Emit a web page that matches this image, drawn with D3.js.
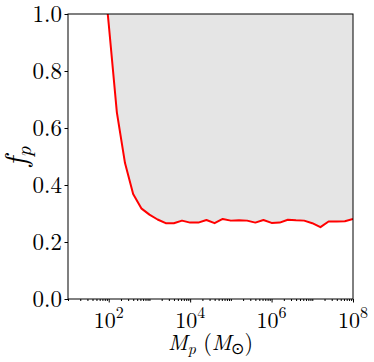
<!DOCTYPE html>
<html><head><meta charset="utf-8">
<script src="https://cdn.jsdelivr.net/npm/d3@7"></script>
<style>body{margin:0;background:#fff}svg{display:block}</style>
</head><body><div id="chart"></div>
<script>
// data: log10(M_p) grid and f_p values
const logMass = [1.8,2.0,2.2,2.4,2.6,2.8,3.0,3.2,3.4,3.6,3.8,4.0,4.2,4.4,4.6,4.8,5.0,5.2,5.4,5.6,5.8,6.0,6.2,6.4,6.6,6.8,7.0,7.2,7.4,7.6,7.8,8.0];
const fp = [1.26,0.965,0.655,0.477,0.368,0.318,0.296,0.279,0.266,0.266,0.275,0.268,0.268,0.277,0.266,0.281,0.275,0.276,0.275,0.268,0.277,0.267,0.268,0.278,0.276,0.275,0.266,0.252,0.272,0.272,0.273,0.281];
const yTicks = [0,0.2,0.4,0.6,0.8,1.0];
const xLabelExps = [2,4,6,8];

const FONT='"Latin Modern Roman","CMU Serif","Liberation Serif",serif';
const W=374,H=362;
const m={l:68,r:21,t:14,b:63};
const svg=d3.select("#chart").append("svg").attr("width",W).attr("height",H)
  .style("font-family",FONT);
const x=d3.scaleLog().domain([10,1e8]).range([m.l,W-m.r]);
const y=d3.scaleLinear().domain([0,1]).range([H-m.b,m.t]);
const data=logMass.map((l,i)=>({M:Math.pow(10,l),f:fp[i]}));

svg.append("clipPath").attr("id","clip").append("rect")
  .attr("x",m.l).attr("y",m.t).attr("width",W-m.l-m.r).attr("height",H-m.t-m.b);
const g=svg.append("g").attr("clip-path","url(#clip)");
g.append("path").datum(data)
  .attr("d",d3.area().x(d=>x(d.M)).y0(y(1)).y1(d=>y(d.f)))
  .attr("fill","#e5e5e5");
g.append("path").datum(data)
  .attr("d",d3.line().x(d=>x(d.M)).y(d=>y(d.f)))
  .attr("fill","none").attr("stroke","#ff0000").attr("stroke-width",2).attr("stroke-linejoin","round");

// frame
svg.append("rect").attr("x",m.l).attr("y",m.t).attr("width",W-m.l-m.r).attr("height",H-m.t-m.b)
  .attr("fill","none").attr("stroke","#000").attr("stroke-width",1);

// y axis
const yAxis=d3.axisLeft(y).tickValues(yTicks).tickSize(3.5).tickPadding(2.5).tickFormat(d3.format(".1f"));
const ya=svg.append("g").attr("transform",`translate(${m.l},0)`).call(yAxis);
ya.attr("font-family",null).attr("font-size",null);
ya.select(".domain").remove();
ya.selectAll("text").style("font-family",FONT).style("font-size","23px").attr("dy","0.32em");

// x axis ticks
const xa=svg.append("g").attr("transform",`translate(0,${H-m.b})`);
const minor=[];
for(let e=1;e<8;e++){for(let k=1;k<10;k++){const v=k*Math.pow(10,e); if(!(k===1&&e%2===0)) minor.push(v);}}
const xAxisMinor=d3.axisBottom(x).tickValues(minor).tickSize(2).tickFormat("");
xa.append("g").call(xAxisMinor).call(s=>s.select(".domain").remove());
const majors=xLabelExps.map(e=>Math.pow(10,e));
const xAxisMajor=d3.axisBottom(x).tickValues(majors).tickSize(3.5).tickFormat("");
xa.append("g").call(xAxisMajor).call(s=>s.select(".domain").remove());
xa.selectAll(".tick line").attr("stroke","#000");
ya.selectAll(".tick line").attr("stroke","#000");

// x tick labels
xLabelExps.forEach(e=>{
  const t=svg.append("text").attr("x",x(Math.pow(10,e))).attr("y",H-m.b+29)
    .attr("text-anchor","middle").style("font-family",FONT).style("font-size","22px");
  t.append("tspan").text("10");
  t.append("tspan").attr("dy",-10).style("font-size","16px").text(e);
});

// x label
const xl=svg.append("text").attr("x",(m.l+W-m.r)/2).attr("y",H-12).attr("text-anchor","middle")
  .style("font-family",FONT).style("font-size","22px");
xl.append("tspan").style("font-style","italic").text("M");
xl.append("tspan").attr("dy",4).style("font-size","16px").style("font-style","italic").text("p");
xl.append("tspan").attr("dy",-4).text(" (");
xl.append("tspan").style("font-style","italic").text("M");
xl.append("tspan").attr("dy",4).style("font-size","16px").text("⊙");
xl.append("tspan").attr("dy",-4).text(")");

// y label
const yl=svg.append("text").attr("transform",`translate(26,${(m.t+H-m.b)/2}) rotate(-90)`)
  .attr("text-anchor","middle").style("font-family",FONT).style("font-size","30px");
yl.append("tspan").style("font-style","italic").text("f");
yl.append("tspan").attr("dy",5).style("font-size","21px").style("font-style","italic").text("p");
</script></body></html>
